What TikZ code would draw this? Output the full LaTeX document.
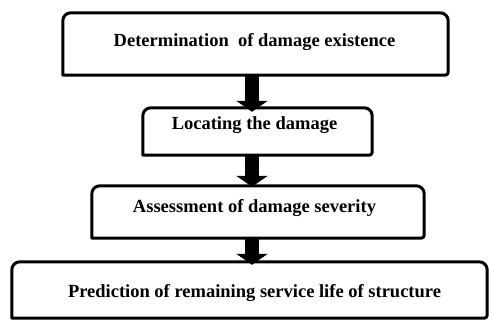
\documentclass[tikz,border=0pt]{standalone}
\usepackage{fontspec}
\setmainfont{Liberation Serif}
\usetikzlibrary{arrows.meta,calc}
\begin{document}
\begin{tikzpicture}[x=1pt,y=-1pt,
  boxshape/.style={rectangle,draw=none,inner sep=0pt,minimum width=#1},
  boxline/.style={line width=3pt,draw=black,line join=round},
  steptext/.style={anchor=base,inner sep=0pt,font=\fontsize{18.5}{22}\selectfont\bfseries,text=black},
  bigarrow/.style={line width=14pt,draw=black,-{Triangle[width=31pt,length=11pt]}}]
\useasboundingbox[fill=white] (0,0) rectangle (489,320);
% boxes (centres, sizes in px)
\node[boxshape=385pt,minimum height=62pt] (b1) at (255.5,44) {};
\node[boxshape=229pt,minimum height=47pt] (b2) at (257.5,131.5) {};
\node[boxshape=332pt,minimum height=52pt] (b3) at (258,212) {};
\node[boxshape=475pt,minimum height=56pt] (b4) at (249.5,290) {};
\foreach \b in {b1,b2,b3,b4}{
  \draw[boxline] (\b.south west) [rounded corners=8pt] -- (\b.north west) -- (\b.north east) [rounded corners=3pt] -- (\b.south east) [sharp corners] -- cycle;
}
% texts
\node[steptext] (t1) at (254.5,46.5) {Determination \ of damage existence};
\node[steptext] (t2) at (254.5,130) {Locating the damage};
\node[steptext] (t3) at (254.5,212.5) {Assessment of damage severity};
\node[steptext] (t4) at (254.5,297) {Prediction of remaining service life of structure};
% arrows
\coordinate (ax) at (252,0);
\draw[bigarrow] (ax |- b1.south) -- ($(ax |- b2.north)+(0,4)$);
\draw[bigarrow] (ax |- b2.south) -- ($(ax |- b3.north)+(0,1)$);
\draw[bigarrow] (ax |- b3.south) -- ($(ax |- b4.north)+(0,3)$);
\end{tikzpicture}
\end{document}
